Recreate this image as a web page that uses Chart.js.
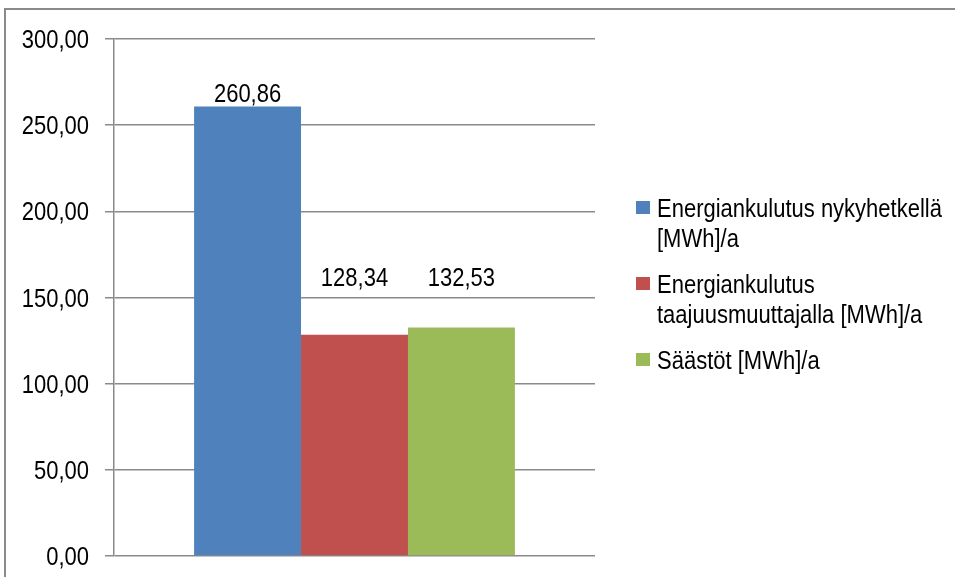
<!DOCTYPE html>
<html>
<head>
<meta charset="utf-8">
<title>Energiankulutus</title>
<script src="https://cdn.jsdelivr.net/npm/chart.js@4/dist/chart.umd.min.js"></script>
<style>
  html, body { margin: 0; padding: 0; background: #fff; overflow: hidden; }
  canvas { display: block; }
</style>
</head>
<body>
<canvas id="myChart" width="955" height="577"></canvas>
<script>
// one category, three series
const categories = [""];
const seriesNames = [
  ["Energiankulutus nykyhetkellä", "[MWh]/a"],
  ["Energiankulutus", "taajuusmuuttajalla [MWh]/a"],
  ["Säästöt [MWh]/a"],
];
const seriesValues = [260.86, 128.34, 132.53];
const seriesColors = ["#4F81BD", "#C0504D", "#9BBB59"];
const yMin = 0;
const yMax = 300;
const yStep = 50;

const FONT = "22px 'Liberation Sans', Arial, sans-serif";
const STRETCH = 1.13; // the chart's type is a bit taller than plain Arial
const GRID = "#8a8a8a";

const fmt = (v) => v.toFixed(2).replace(".", ",");

// text drawn on its baseline, slightly stretched vertically
const drawText = (ctx, text, x, y, align) => {
  ctx.save();
  ctx.translate(x, y);
  ctx.scale(1, STRETCH);
  ctx.font = FONT;
  ctx.fillStyle = "#000";
  ctx.textAlign = align;
  ctx.textBaseline = "alphabetic";
  ctx.fillText(text, 0, 0);
  ctx.restore();
};

// outer frame of the chart
const framePlugin = {
  id: "frame",
  beforeDraw(chart) {
    const ctx = chart.ctx;
    ctx.save();
    ctx.fillStyle = "#fff";
    ctx.fillRect(0, 0, chart.width, chart.height);
    ctx.strokeStyle = "#8a8a8a";
    ctx.lineWidth = 2;
    ctx.strokeRect(5, 9, 2000, 2000);
    ctx.restore();
  },
};

// y tick labels, right aligned left of the tick marks
const yLabels = {
  id: "yLabels",
  afterDraw(chart, args, opts) {
    const scale = chart.scales.y;
    scale.ticks.forEach((t) => {
      const y = scale.getPixelForValue(t.value);
      drawText(chart.ctx, fmt(t.value), opts.right, y + opts.shift, "right");
    });
  },
};

// value labels above the bars; the lower two sit on a common line
const valueLabels = {
  id: "valueLabels",
  afterDatasetsDraw(chart, args, opts) {
    chart.data.datasets.forEach((ds, i) => {
      chart.getDatasetMeta(i).data.forEach((bar, j) => {
        drawText(chart.ctx, fmt(ds.data[j]), bar.x, bar.y - opts.lift[i], "center");
      });
    });
  },
};

// legend on the right with wrapped entries
const sideLegend = {
  id: "sideLegend",
  afterDraw(chart, args, opts) {
    const ctx = chart.ctx;
    let y = opts.top;
    chart.data.datasets.forEach((ds) => {
      ctx.fillStyle = ds.backgroundColor;
      ctx.fillRect(opts.left, y - 16, 14, 13);
      ds.label.forEach((line, k) => {
        drawText(ctx, line, opts.left + 21, y + k * opts.lineHeight, "left");
      });
      y += ds.label.length * opts.lineHeight + opts.gap;
    });
  },
};

const ctx = document.getElementById("myChart").getContext("2d");
const myChart = new Chart(ctx, {
  type: "bar",
  data: {
    labels: categories,
    datasets: seriesValues.map((v, i) => ({
      label: seriesNames[i],
      data: [v],
      backgroundColor: seriesColors[i],
      borderWidth: 0,
      categoryPercentage: 0.667,
      barPercentage: 1,
    })),
  },
  options: {
    responsive: false,
    animation: false,
    layout: { padding: { left: 0, top: 39, right: 360, bottom: 21 } },
    scales: {
      x: { display: false },
      y: {
        min: yMin,
        max: yMax,
        afterFit: (axis) => { axis.width = 114; },
        ticks: { stepSize: yStep, display: false },
        grid: {
          color: GRID,
          lineWidth: 1.5,
          tickLength: 9,
          tickColor: GRID,
        },
        border: { display: true, color: GRID, width: 1.5 },
      },
    },
    plugins: {
      legend: { display: false },
      tooltip: { enabled: false },
      yLabels: { right: 89, shift: 9 },
      valueLabels: { lift: [4, 49, 42] },
      sideLegend: { left: 636, top: 217, lineHeight: 30, gap: 16 },
    },
  },
  plugins: [framePlugin, yLabels, valueLabels, sideLegend],
});
</script>
</body>
</html>
